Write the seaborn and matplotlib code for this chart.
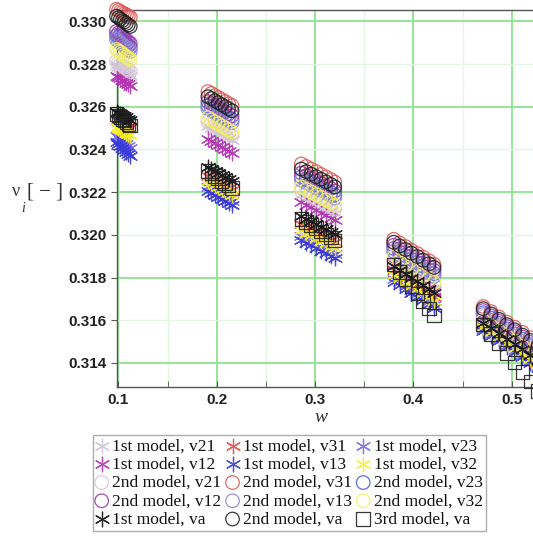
import matplotlib
matplotlib.use("Agg")
import matplotlib.pyplot as plt
import numpy as np
import pandas as pd
import seaborn as sns

# Sweep values of w (five groups around 0.1 ... 0.5)
W = [0.098, 0.100, 0.102, 0.104, 0.106, 0.108, 0.110, 0.112,
     0.1910, 0.1945, 0.1980, 0.2015, 0.2050, 0.2085, 0.2120, 0.2155,
     0.286, 0.291, 0.296, 0.301, 0.306, 0.311, 0.316, 0.320,
     0.380, 0.386, 0.392, 0.398, 0.404, 0.410, 0.416, 0.421,
     0.471, 0.479, 0.487, 0.495, 0.503, 0.511, 0.519, 0.527]

# Poisson ratios, 1st model
nu_1st_v21 = [0.32793, 0.32786, 0.32780, 0.32773, 0.32766, 0.32759, 0.32753, 0.32746,
              0.32511, 0.32502, 0.32492, 0.32483, 0.32473, 0.32464, 0.32454, 0.32445,
              0.32186, 0.32174, 0.32162, 0.32150, 0.32137, 0.32125, 0.32113, 0.32101,
              0.31871, 0.31854, 0.31837, 0.31820, 0.31804, 0.31787, 0.31770, 0.31753,
              0.31607, 0.31582, 0.31557, 0.31532, 0.31508, 0.31483, 0.31458, 0.31433]
nu_1st_v31 = [0.32539, 0.32534, 0.32528, 0.32523, 0.32517, 0.32512, 0.32506, 0.32501,
              0.32275, 0.32266, 0.32256, 0.32247, 0.32237, 0.32228, 0.32218, 0.32209,
              0.32049, 0.32037, 0.32025, 0.32013, 0.32001, 0.31989, 0.31977, 0.31965,
              0.31833, 0.31816, 0.31798, 0.31781, 0.31763, 0.31746, 0.31728, 0.31711,
              0.31579, 0.31554, 0.31529, 0.31504, 0.31480, 0.31455, 0.31430, 0.31405]
nu_1st_v23 = [0.32464, 0.32456, 0.32448, 0.32440, 0.32431, 0.32423, 0.32415, 0.32407,
              0.32224, 0.32215, 0.32205, 0.32196, 0.32186, 0.32177, 0.32167, 0.32158,
              0.31993, 0.31981, 0.31969, 0.31957, 0.31944, 0.31932, 0.31920, 0.31908,
              0.31795, 0.31778, 0.31760, 0.31743, 0.31725, 0.31708, 0.31690, 0.31673,
              0.31560, 0.31535, 0.31510, 0.31485, 0.31461, 0.31436, 0.31411, 0.31386]
nu_1st_v12 = [0.32746, 0.32739, 0.32733, 0.32726, 0.32719, 0.32712, 0.32706, 0.32699,
              0.32449, 0.32440, 0.32430, 0.32421, 0.32412, 0.32403, 0.32393, 0.32384,
              0.32153, 0.32141, 0.32129, 0.32117, 0.32104, 0.32092, 0.32080, 0.32068,
              0.31861, 0.31844, 0.31826, 0.31809, 0.31791, 0.31774, 0.31756, 0.31739,
              0.31602, 0.31577, 0.31552, 0.31527, 0.31503, 0.31478, 0.31453, 0.31428]
nu_1st_v13 = [0.32435, 0.32426, 0.32416, 0.32407, 0.32397, 0.32388, 0.32378, 0.32369,
              0.32205, 0.32196, 0.32186, 0.32177, 0.32167, 0.32158, 0.32148, 0.32139,
              0.31974, 0.31962, 0.31950, 0.31938, 0.31925, 0.31913, 0.31901, 0.31889,
              0.31781, 0.31764, 0.31746, 0.31729, 0.31711, 0.31694, 0.31676, 0.31659,
              0.31551, 0.31526, 0.31501, 0.31476, 0.31451, 0.31426, 0.31401, 0.31376]
nu_1st_v32 = [0.32506, 0.32501, 0.32495, 0.32490, 0.32484, 0.32479, 0.32473, 0.32468,
              0.32252, 0.32243, 0.32233, 0.32224, 0.32214, 0.32205, 0.32195, 0.32186,
              0.32021, 0.32009, 0.31997, 0.31985, 0.31972, 0.31960, 0.31948, 0.31936,
              0.31814, 0.31797, 0.31779, 0.31762, 0.31744, 0.31727, 0.31709, 0.31692,
              0.31569, 0.31544, 0.31519, 0.31494, 0.31470, 0.31445, 0.31420, 0.31395]

# Poisson ratios, 2nd model
nu_2nd_v21 = [0.32812, 0.32805, 0.32799, 0.32792, 0.32785, 0.32778, 0.32772, 0.32765,
              0.32529, 0.32520, 0.32510, 0.32501, 0.32492, 0.32483, 0.32473, 0.32464,
              0.32205, 0.32193, 0.32181, 0.32169, 0.32156, 0.32144, 0.32132, 0.32120,
              0.31880, 0.31863, 0.31846, 0.31829, 0.31813, 0.31796, 0.31779, 0.31762,
              0.31616, 0.31591, 0.31566, 0.31541, 0.31517, 0.31492, 0.31467, 0.31442]
nu_2nd_v31 = [0.33056, 0.33051, 0.33045, 0.33040, 0.33035, 0.33030, 0.33024, 0.33019,
              0.32671, 0.32662, 0.32652, 0.32643, 0.32633, 0.32624, 0.32614, 0.32605,
              0.32332, 0.32320, 0.32308, 0.32296, 0.32283, 0.32271, 0.32259, 0.32247,
              0.31979, 0.31962, 0.31945, 0.31928, 0.31912, 0.31895, 0.31878, 0.31861,
              0.31664, 0.31640, 0.31615, 0.31591, 0.31567, 0.31543, 0.31518, 0.31494]
nu_2nd_v23 = [0.32934, 0.32926, 0.32918, 0.32910, 0.32902, 0.32894, 0.32886, 0.32878,
              0.32605, 0.32596, 0.32586, 0.32577, 0.32567, 0.32558, 0.32548, 0.32539,
              0.32271, 0.32259, 0.32247, 0.32235, 0.32222, 0.32210, 0.32198, 0.32186,
              0.31936, 0.31919, 0.31902, 0.31885, 0.31869, 0.31852, 0.31835, 0.31818,
              0.31635, 0.31610, 0.31585, 0.31560, 0.31536, 0.31511, 0.31486, 0.31461]
nu_2nd_v12 = [0.32953, 0.32945, 0.32937, 0.32929, 0.32920, 0.32912, 0.32904, 0.32896,
              0.32624, 0.32615, 0.32605, 0.32596, 0.32586, 0.32577, 0.32567, 0.32558,
              0.32289, 0.32277, 0.32265, 0.32253, 0.32241, 0.32229, 0.32217, 0.32205,
              0.31951, 0.31934, 0.31917, 0.31900, 0.31884, 0.31867, 0.31850, 0.31833,
              0.31645, 0.31620, 0.31595, 0.31570, 0.31546, 0.31521, 0.31496, 0.31471]
nu_2nd_v13 = [0.32915, 0.32907, 0.32899, 0.32891, 0.32883, 0.32875, 0.32867, 0.32859,
              0.32591, 0.32582, 0.32572, 0.32563, 0.32553, 0.32544, 0.32534, 0.32525,
              0.32256, 0.32244, 0.32232, 0.32220, 0.32208, 0.32196, 0.32184, 0.32172,
              0.31922, 0.31905, 0.31889, 0.31872, 0.31855, 0.31839, 0.31822, 0.31805,
              0.31626, 0.31601, 0.31576, 0.31551, 0.31527, 0.31502, 0.31477, 0.31452]
nu_2nd_v32 = [0.32868, 0.32861, 0.32855, 0.32848, 0.32841, 0.32834, 0.32828, 0.32821,
              0.32548, 0.32539, 0.32529, 0.32520, 0.32510, 0.32501, 0.32491, 0.32482,
              0.32224, 0.32212, 0.32200, 0.32188, 0.32175, 0.32163, 0.32151, 0.32139,
              0.31894, 0.31877, 0.31860, 0.31843, 0.31827, 0.31810, 0.31793, 0.31776,
              0.31598, 0.31574, 0.31549, 0.31525, 0.31501, 0.31477, 0.31452, 0.31428]

# Averaged ratios
nu_1st_va = [0.32576, 0.32571, 0.32565, 0.32560, 0.32555, 0.32550, 0.32544, 0.32539,
             0.32318, 0.32309, 0.32299, 0.32290, 0.32280, 0.32271, 0.32261, 0.32252,
             0.32087, 0.32075, 0.32063, 0.32051, 0.32038, 0.32026, 0.32014, 0.32002,
             0.31852, 0.31834, 0.31817, 0.31799, 0.31782, 0.31764, 0.31747, 0.31729,
             0.31588, 0.31563, 0.31538, 0.31513, 0.31489, 0.31464, 0.31439, 0.31414]
nu_2nd_va = [0.33024, 0.33017, 0.33010, 0.33003, 0.32997, 0.32990, 0.32983, 0.32976,
             0.32647, 0.32638, 0.32628, 0.32619, 0.32609, 0.32600, 0.32590, 0.32581,
             0.32308, 0.32296, 0.32284, 0.32272, 0.32260, 0.32248, 0.32236, 0.32224,
             0.31965, 0.31948, 0.31931, 0.31914, 0.31898, 0.31881, 0.31864, 0.31847,
             0.31654, 0.31629, 0.31604, 0.31579, 0.31555, 0.31530, 0.31505, 0.31480]
nu_3rd_va = [0.32567, 0.32559, 0.32551, 0.32543, 0.32535, 0.32527, 0.32519, 0.32511,
             0.32299, 0.32288, 0.32276, 0.32265, 0.32253, 0.32242, 0.32230, 0.32219,
             0.32073, 0.32059, 0.32045, 0.32031, 0.32016, 0.32002, 0.31988, 0.31974,
             0.31861, 0.31827, 0.31792, 0.31758, 0.31724, 0.31690, 0.31655, 0.31621,
             0.31579, 0.31535, 0.31490, 0.31446, 0.31401, 0.31357, 0.31312, 0.31268]

LABELS = ["1st model, v21", "1st model, v31", "1st model, v23",
          "1st model, v12", "1st model, v13", "1st model, v32",
          "2nd model, v21", "2nd model, v31", "2nd model, v23",
          "2nd model, v12", "2nd model, v13", "2nd model, v32",
          "1st model, va", "2nd model, va", "3rd model, va"]
VALUES = [nu_1st_v21, nu_1st_v31, nu_1st_v23, nu_1st_v12, nu_1st_v13, nu_1st_v32,
          nu_2nd_v21, nu_2nd_v31, nu_2nd_v23, nu_2nd_v12, nu_2nd_v13, nu_2nd_v32,
          nu_1st_va, nu_2nd_va, nu_3rd_va]

# Styles per series
COLORS = ["#cdc3d8", "#f04848", "#7a6cf0", "#b236b2", "#3a3ad8", "#f8f020",
          "#d8c8d8", "#e05a5a", "#4a62d8", "#9a3aa8", "#8a86d0", "#f4f060",
          "#111111", "#222222", "#222222"]
KINDS = ["star"] * 6 + ["circle"] * 6 + ["star", "circle", "square"]

df = pd.DataFrame({
    "w": np.tile(W, len(LABELS)),
    "nu": np.concatenate(VALUES),
    "series": np.repeat(LABELS, len(W)),
})

fig = plt.figure(figsize=(5.33, 5.36), dpi=100)
W_PX, H_PX = 533, 536
ax_left, ax_right, ax_top, ax_bot = 116.5, 560.8, 10.0, 387.0
ax = fig.add_axes([ax_left / W_PX, 1 - ax_bot / H_PX,
                   (ax_right - ax_left) / W_PX, (ax_bot - ax_top) / H_PX])

x0 = 0.098
xpx = 983.0
ax.set_xlim(x0, x0 + (ax_right - ax_left) / xpx)
ypx = 21350.0
ax.set_ylim(0.330 - (ax_bot - 21.3) / ypx, 0.330 + (21.3 - ax_top) / ypx)

# Grid: strong lines and faint intermediate lines
for gx in [0.1, 0.2, 0.3, 0.4, 0.5]:
    ax.axvline(gx, color="#8fe38f", lw=1.3, zorder=0)
for gx in [0.15, 0.25, 0.35, 0.45]:
    ax.axvline(gx, color="#e3f6e3", lw=1.0, zorder=0)
for gy in [0.314, 0.318, 0.322, 0.326, 0.330]:
    ax.axhline(gy, color="#8fe38f", lw=1.3, zorder=0)
for gy in [0.316, 0.320, 0.324, 0.328]:
    ax.axhline(gy, color="#e3f6e3", lw=1.0, zorder=0)

STAR = (6, 2, 0)
for lab, col, kind in zip(LABELS, COLORS, KINDS):
    sub = df[df["series"] == lab]
    if kind == "star":
        sns.scatterplot(data=sub, x="w", y="nu", ax=ax, marker=STAR, s=110,
                        color=col, linewidth=0.9, label=lab, clip_on=False,
                        alpha=0.9, zorder=3)
    else:
        mk = "o" if kind == "circle" else "s"
        sns.scatterplot(data=sub, x="w", y="nu", ax=ax, marker=mk, s=95,
                        facecolor="none", edgecolor=col, linewidth=0.9,
                        label=lab, clip_on=False, alpha=0.9, zorder=3)

handles, labels = ax.get_legend_handles_labels()
if ax.get_legend() is not None:
    ax.get_legend().remove()

ax.set_xlabel("")
ax.set_ylabel("")

ax.set_xticks([0.1, 0.2, 0.3, 0.4, 0.5])
ax.set_xticks([0.15, 0.25, 0.35, 0.45], minor=True)
ax.set_xticklabels(["0.1", "0.2", "0.3", "0.4", "0.5"])
yt = [0.314, 0.316, 0.318, 0.320, 0.322, 0.324, 0.326, 0.328, 0.330]
ax.set_yticks(yt)
ax.set_yticklabels([f"{v:.3f}" for v in yt])
ax.tick_params(axis="x", which="both", direction="in", length=4, color="#555555",
               pad=4)
ax.tick_params(axis="y", which="both", direction="out", length=4, color="#555555",
               pad=3)
for t in ax.get_xticklabels() + ax.get_yticklabels():
    t.set_fontfamily("Liberation Sans")
    t.set_fontweight("bold")
    t.set_fontsize(11)
    t.set_color("#222222")

for side in ["left", "bottom", "top"]:
    ax.spines[side].set_color("#555555")
    ax.spines[side].set_linewidth(1.0)
ax.spines["right"].set_visible(False)
ax.set_facecolor("white")

# Axis titles
fig.text(321 / W_PX, 1 - 417 / H_PX, "w", fontsize=14, style="italic",
         family="Liberation Serif", ha="center", va="center", color="#333333")
fig.text(12 / W_PX, 1 - 191 / H_PX, "ν", fontsize=13,
         family="Liberation Serif", ha="left", va="center", color="#333333")
fig.text(21 / W_PX, 1 - 209 / H_PX, "i", fontsize=10, style="italic",
         family="Liberation Serif", ha="left", va="center", color="#333333")
fig.text(27 / W_PX, 1 - 192 / H_PX, "[ − ]", fontsize=15,
         family="Liberation Serif", ha="left", va="center", color="#333333")

order = [r * 3 + c for c in range(3) for r in range(5)]
leg = fig.legend([handles[i] for i in order], [labels[i] for i in order],
                 ncol=3, loc="upper left",
                 bbox_to_anchor=(93 / W_PX, 1 - 435 / H_PX),
                 borderaxespad=0, frameon=True, fancybox=False,
                 edgecolor="#999999", prop={"family": "Liberation Serif", "size": 12.5},
                 handlelength=0.6, handletextpad=0.3, columnspacing=0.35,
                 labelspacing=0.12, borderpad=0.2, scatterpoints=1)
leg.get_frame().set_linewidth(1.0)
for t in leg.get_texts():
    t.set_color("#111111")

fig.savefig("out.png", dpi=100, facecolor="white")
